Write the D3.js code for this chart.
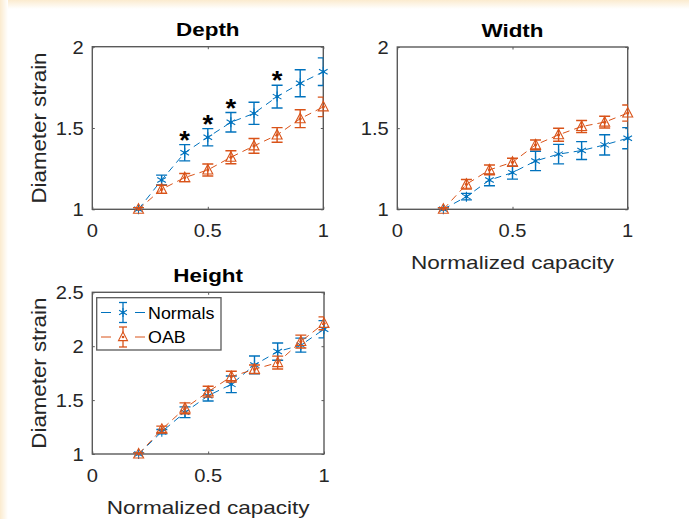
<!DOCTYPE html>
<html><head><meta charset="utf-8">
<script src="https://cdn.jsdelivr.net/npm/d3@7"></script>
<style>html,body{margin:0;padding:0;background:#fff;}svg{display:block;}</style>
</head><body>
<script>
// ---------- data ----------
const capacity = [0.2, 0.3, 0.4, 0.5, 0.6, 0.7, 0.8, 0.9, 1.0];
const seriesNames = ["Normals", "OAB"];

const depthNormals    = [1.00, 1.180, 1.348, 1.443, 1.535, 1.590, 1.693, 1.775, 1.846];
const depthNormalsErr = [0.01, 0.030, 0.050, 0.053, 0.060, 0.068, 0.070, 0.083, 0.085];
const depthOAB        = [1.00, 1.123, 1.195, 1.242, 1.320, 1.390, 1.457, 1.557, 1.630];
const depthOABErr     = [0.01, 0.025, 0.025, 0.037, 0.040, 0.045, 0.045, 0.055, 0.060];

const widthNormals    = [1.00, 1.078, 1.180, 1.226, 1.298, 1.340, 1.362, 1.397, 1.438];
const widthNormalsErr = [0.01, 0.020, 0.035, 0.040, 0.060, 0.060, 0.055, 0.062, 0.065];
const widthOAB        = [1.00, 1.154, 1.243, 1.290, 1.397, 1.459, 1.510, 1.537, 1.593];
const widthOABErr     = [0.01, 0.030, 0.030, 0.025, 0.030, 0.040, 0.037, 0.036, 0.050];

const heightNormals    = [1.00, 1.207, 1.387, 1.541, 1.646, 1.826, 1.950, 2.010, 2.157];
const heightNormalsErr = [0.01, 0.020, 0.050, 0.050, 0.077, 0.083, 0.080, 0.065, 0.080];
const heightOAB        = [1.00, 1.229, 1.424, 1.578, 1.718, 1.786, 1.848, 2.043, 2.212];
const heightOABErr     = [0.01, 0.030, 0.050, 0.050, 0.050, 0.040, 0.060, 0.060, 0.060];

const depthSignificant = [0.4, 0.5, 0.6, 0.8];

const xTicks = [0, 0.5, 1];
const xTickLabels = ["0", "0.5", "1"];
const yTicksA = [1, 1.5, 2];
const yTickLabelsA = ["1", "1.5", "2"];
const yTicksB = [1, 1.5, 2, 2.5];
const yTickLabelsB = ["1", "1.5", "2", "2.5"];

// ---------- style ----------
const W = 689, H = 519;
const colNormals = "#0072BD", colOAB = "#D95319";
const axisCol = "#5a5a5a", textCol = "#262626";
const FONT = "'Liberation Sans', Arial, Helvetica, sans-serif";

const svg = d3.select("body").append("svg").attr("width", W).attr("height", H);
const defs = svg.append("defs");
const gT = defs.append("linearGradient").attr("id","gTop").attr("x1",0).attr("y1",0).attr("x2",0).attr("y2",1);
gT.append("stop").attr("offset","0").attr("stop-color","#FBEBCF");
gT.append("stop").attr("offset","1").attr("stop-color","#ffffff");
const gL = defs.append("linearGradient").attr("id","gLeft").attr("x1",0).attr("y1",0).attr("x2",1).attr("y2",0);
gL.append("stop").attr("offset","0").attr("stop-color","#FBEBCF");
gL.append("stop").attr("offset","1").attr("stop-color","#ffffff");
svg.append("rect").attr("width", W).attr("height", H).attr("fill", "#fff");
svg.append("rect").attr("x",0).attr("y",0).attr("width", W).attr("height", 9).attr("fill","url(#gTop)");
svg.append("rect").attr("x",0).attr("y",0).attr("width", 8).attr("height", H).attr("fill","url(#gLeft)");

function txt(g, s, x, y, o) {
  const t = g.append("text")
    .attr("transform", `translate(${x},${y})` + (o.rot ? ` rotate(${o.rot})` : "") + ` scale(${o.sx || 1},1)`)
    .attr("text-anchor", o.anchor || "middle")
    .attr("font-family", FONT)
    .attr("font-size", o.size)
    .attr("font-weight", o.weight || "normal")
    .attr("fill", o.fill || textCol)
    .text(s);
  if (o.len) t.attr("textLength", o.len).attr("lengthAdjust", "spacingAndGlyphs");
  return t;
}

function starPath(r) {
  const c = r * Math.cos(Math.PI / 6), s = r * Math.sin(Math.PI / 6);
  return `M0,${-r}L0,${r}M${-c},${-s}L${c},${s}M${-c},${s}L${c},${-s}`;
}
function triPath(r) {
  return `M0,${-r * 1.1}L${r},${r * 0.8}L${-r},${r * 0.8}Z`;
}

let clipId = 0;
function panel(p) {
  const x = d3.scaleLinear().domain([0, 1]).range([p.x0, p.x1]);
  const y = d3.scaleLinear().domain(p.yDomain).range([p.y1, p.y0]);
  const g = svg.append("g");
  const id = "clip" + (clipId++);
  defs.append("clipPath").attr("id", id).append("rect")
    .attr("x", p.x0).attr("y", p.y0).attr("width", p.x1 - p.x0).attr("height", p.y1 - p.y0);

  // axes box
  g.append("rect").attr("x", p.x0).attr("y", p.y0).attr("width", p.x1 - p.x0).attr("height", p.y1 - p.y0)
    .attr("fill", "#fff").attr("stroke", axisCol).attr("stroke-width", 1.4);

  // inward tick marks via d3 axes
  const tl = 2.5;
  const axB = d3.axisBottom(x).tickValues(xTicks).tickSize(-tl).tickFormat("");
  const axT = d3.axisTop(x).tickValues(xTicks).tickSize(-tl).tickFormat("");
  const axL = d3.axisLeft(y).tickValues(p.yTicks).tickSize(-tl).tickFormat("");
  const axR = d3.axisRight(y).tickValues(p.yTicks).tickSize(-tl).tickFormat("");
  [[axB, `translate(0,${p.y1})`], [axT, `translate(0,${p.y0})`], [axL, `translate(${p.x0},0)`], [axR, `translate(${p.x1},0)`]]
    .forEach(([ax, tr]) => {
      const a = g.append("g").attr("transform", tr).call(ax);
      a.select(".domain").remove();
      a.selectAll("line").attr("stroke", axisCol).attr("stroke-width", 1);
    });

  // tick labels
  xTicks.forEach((v, i) => txt(g, xTickLabels[i], x(v), p.y1 + 28, { size: 17.5, sx: 1.15 }));
  p.yTicks.forEach((v, i) => txt(g, p.yTickLabels[i], p.x0 - 8.5, y(v) + 7, { size: 17.5, sx: 1.15, anchor: "end" }));

  // title
  txt(g, p.title, (p.x0 + p.x1) / 2, p.y0 - 10.5, { size: 19, weight: "bold", sx: 1.18, fill: "#000" });
  if (p.xlabel) txt(g, "Normalized capacity", (p.x0 + p.x1) / 2, p.y1 + 59.5, { size: 19, len: 203 });
  if (p.ylabel) txt(g, "Diameter strain", 45.5, (p.y0 + p.y1) / 2, { size: 21, rot: -90, len: 151 });

  // series
  const series = [
    { v: p.normals, e: p.normalsErr, col: colNormals, mark: "star" },
    { v: p.oab, e: p.oabErr, col: colOAB, mark: "tri" }
  ];
  const line = d3.line().x(d => x(d[0])).y(d => y(d[1]));
  series.forEach(s => {
    const pts = capacity.map((c, i) => [c, s.v[i], s.e[i]]);
    const clipG = g.append("g").attr("clip-path", `url(#${id})`);
    clipG.append("path").datum(pts).attr("d", line).attr("fill", "none")
      .attr("stroke", s.col).attr("stroke-width", 1).attr("stroke-dasharray", "7,5");
    const cap = 5.5;
    const eb = clipG.selectAll(null).data(pts).enter().append("g").attr("stroke", s.col).attr("stroke-width", 1.4);
    eb.append("line").attr("x1", d => x(d[0])).attr("x2", d => x(d[0]))
      .attr("y1", d => y(d[1] - d[2])).attr("y2", d => y(d[1] + d[2]));
    eb.append("line").attr("x1", d => x(d[0]) - cap).attr("x2", d => x(d[0]) + cap)
      .attr("y1", d => y(d[1] + d[2])).attr("y2", d => y(d[1] + d[2]));
    eb.append("line").attr("x1", d => x(d[0]) - cap).attr("x2", d => x(d[0]) + cap)
      .attr("y1", d => y(d[1] - d[2])).attr("y2", d => y(d[1] - d[2]));
    const mk = g.selectAll(null).data(pts).enter().append("g")
      .attr("transform", d => `translate(${x(d[0])},${y(d[1])})`);
    mk.append("path").attr("d", s.mark === "star" ? starPath(5) : triPath(5))
      .attr("fill", "none").attr("stroke", s.col).attr("stroke-width", 1.1);
    mk.append("circle").attr("r", 1.6).attr("fill", s.col);
  });

  // significance asterisks
  if (p.sig) {
    p.sig.forEach(c => {
      const i = capacity.indexOf(c);
      const top = y(p.normals[i] + p.normalsErr[i]);
      txt(g, "*", x(c), top - 9 + 13, { size: 25, weight: "bold", fill: "#000", sx: 1.1 });
    });
  }

  // legend
  if (p.legend) {
    const lx0 = 96.7, ly0 = 297.7, lx1 = 221, ly1 = 350;
    g.append("rect").attr("x", lx0).attr("y", ly0).attr("width", lx1 - lx0).attr("height", ly1 - ly0)
      .attr("fill", "#fff").attr("stroke", axisCol).attr("stroke-width", 1.3);
    const rows = [{ name: seriesNames[0], col: colNormals, mark: "star", yy: 312.5 },
                  { name: seriesNames[1], col: colOAB, mark: "tri", yy: 337 }];
    rows.forEach(r => {
      g.append("line").attr("x1", 101).attr("x2", 145).attr("y1", r.yy).attr("y2", r.yy)
        .attr("stroke", r.col).attr("stroke-width", 1).attr("stroke-dasharray", "10,24");
      const mx = 123;
      g.append("line").attr("x1", mx).attr("x2", mx).attr("y1", r.yy - 10).attr("y2", r.yy + 10).attr("stroke", r.col).attr("stroke-width", 1.3);
      g.append("line").attr("x1", mx - 4).attr("x2", mx + 4).attr("y1", r.yy - 10).attr("y2", r.yy - 10).attr("stroke", r.col).attr("stroke-width", 1.3);
      g.append("line").attr("x1", mx - 4).attr("x2", mx + 4).attr("y1", r.yy + 10).attr("y2", r.yy + 10).attr("stroke", r.col).attr("stroke-width", 1.3);
      g.append("path").attr("transform", `translate(${mx},${r.yy})`)
        .attr("d", r.mark === "star" ? starPath(4.5) : triPath(4.5))
        .attr("fill", "#fff").attr("stroke", r.col).attr("stroke-width", 1.1);
      g.append("circle").attr("cx", mx).attr("cy", r.yy).attr("r", 1.3).attr("fill", r.col);
      txt(g, r.name, 148, r.yy + 6, { size: 17, anchor: "start", sx: 1.05, fill: "#000" });
    });
  }
}

panel({ title: "Depth", x0: 92.3, x1: 323.3, y0: 46.7, y1: 209.3, yDomain: [1, 2], yTicks: yTicksA, yTickLabels: yTickLabelsA,
  normals: depthNormals, normalsErr: depthNormalsErr, oab: depthOAB, oabErr: depthOABErr, ylabel: true, sig: depthSignificant });
panel({ title: "Width", x0: 397.3, x1: 627.7, y0: 47, y1: 209.3, yDomain: [1, 2], yTicks: yTicksA, yTickLabels: yTickLabelsA,
  normals: widthNormals, normalsErr: widthNormalsErr, oab: widthOAB, oabErr: widthOABErr, xlabel: true });
panel({ title: "Height", x0: 92.3, x1: 324, y0: 292.3, y1: 454, yDomain: [1, 2.5], yTicks: yTicksB, yTickLabels: yTickLabelsB,
  normals: heightNormals, normalsErr: heightNormalsErr, oab: heightOAB, oabErr: heightOABErr, xlabel: true, ylabel: true, legend: true });
</script>
</body></html>
